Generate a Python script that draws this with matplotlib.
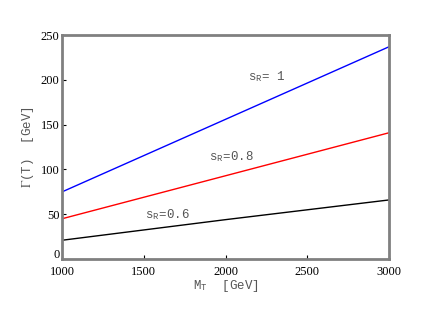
import matplotlib
matplotlib.use("Agg")
import matplotlib.pyplot as plt
import matplotlib.transforms as mtransforms

# ---- data ------------------------------------------------------------------
m_T      = [1000, 2000, 3000]
gam_s10  = [75, 156, 237]
gam_s08  = [45, 93, 141]
gam_s06  = [21, 44, 66]

x_ticks  = [1000, 1500, 2000, 2500, 3000]
y_ticks  = [0, 50, 100, 150, 200, 250]

GREY = "#808080"; TXT = "#555555"
MONO = "Liberation Mono"; SERIF = "Liberation Serif"
plt.rcParams["mathtext.fontset"] = "stix"

fig = plt.figure(figsize=(4.4, 3.11), dpi=100)
ax = fig.add_axes([0.141, 0.167, 0.743, 0.72])

ax.plot(m_T, gam_s10, color="blue", lw=1)
ax.plot(m_T, gam_s08, color="red", lw=1)
ax.plot(m_T, gam_s06, color="black", lw=1)

ax.set_xlim(1000, 3000); ax.set_ylim(0, 250)
ax.set_xticks(x_ticks); ax.set_yticks(y_ticks)
ax.tick_params(direction="in", length=3, width=0.8, color="black", labelsize=9)
ax.tick_params(axis="x", pad=5)
ax.tick_params(axis="y", pad=2)
for lab in ax.get_xticklabels() + ax.get_yticklabels():
    lab.set_family(SERIF)
# the "0" sits a little above the corner, clear of "1000"
zero = ax.get_yticklabels()[0]
zero.set_transform(zero.get_transform() +
                   mtransforms.ScaledTranslation(0, 4/72, fig.dpi_scale_trans))
for s in ax.spines.values():
    s.set_color(GREY); s.set_linewidth(2)

ax.set_xlabel(r"M$_\mathregular{T}$  [GeV]", family=MONO, fontsize=9, color=TXT, labelpad=0)
ax.set_ylabel(r"$\mathrm{\Gamma}$(T)  [GeV]", family=MONO, fontsize=9, color=TXT, labelpad=3)

# curve labels
ax.text(2140, 200, r"s$_\mathregular{R}$= 1", family=MONO, fontsize=9, color=TXT)
ax.text(1900, 110, r"s$_\mathregular{R}$=0.8", family=MONO, fontsize=9, color=TXT)
ax.text(1510, 46, r"s$_\mathregular{R}$=0.6", family=MONO, fontsize=9, color=TXT)

plt.savefig("out.png", dpi=100)
